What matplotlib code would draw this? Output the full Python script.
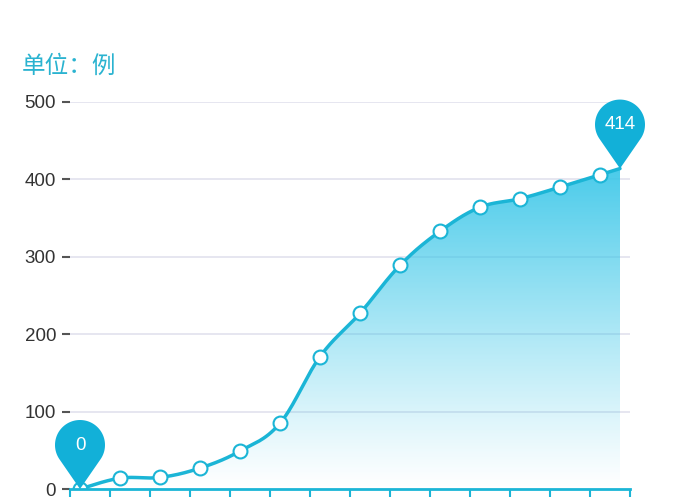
import numpy as np
import matplotlib
matplotlib.use("Agg")
import matplotlib.pyplot as plt
import matplotlib.transforms as mtransforms
from matplotlib.patches import Polygon

plt.rcParams['font.family'] = ['Liberation Sans', 'Noto Sans CJK SC', 'DejaVu Sans']

# Data
days = [0, 1, 2, 3, 4, 5, 6, 7, 8, 9, 10, 11, 12, 13, 13.5]
cases = [0, 14, 15, 27, 49, 85, 171, 227, 289, 333, 364, 375, 390, 406, 414]
y_ticks = [0, 100, 200, 300, 400, 500]
unit_label = "单位：例"

LINE = "#1bb5d6"
FILL = (0.22, 0.78, 0.91)
PIN = "#12b0d8"


def smooth_curve(xs, ys, s=0.18, n=30):
    # bezier smoothing through every point, like a chart library's "smooth" line
    p = np.column_stack([xs, ys]).astype(float)
    out = []
    for i in range(len(p) - 1):
        p0 = p[i - 1] if i > 0 else p[i]
        p1, p2 = p[i], p[i + 1]
        p3 = p[i + 2] if i + 2 < len(p) else p[i + 1]
        c1 = p1 + (p2 - p0) * s
        c2 = p2 - (p3 - p1) * s
        t = np.linspace(0, 1, n)[:, None]
        seg = ((1 - t) ** 3) * p1 + 3 * ((1 - t) ** 2) * t * c1 + 3 * (1 - t) * t ** 2 * c2 + t ** 3 * p2
        out.append(seg if i == 0 else seg[1:])
    seg = np.vstack(out)
    return seg[:, 0], seg[:, 1]


def draw_pin(ax, x, y, text):
    # teardrop pin in pixel units, tip anchored on the data point
    d, r = 44.0, 25.0
    phi = np.arccos(r / d)
    a0 = -np.pi / 2 + phi
    a1 = 3 * np.pi / 2 - phi
    ang = np.linspace(a0, a1, 80)
    verts = np.vstack([[0, 0], np.column_stack([r * np.cos(ang), d + r * np.sin(ang)])])
    trans = mtransforms.Affine2D() + mtransforms.ScaledTranslation(x, y, ax.transData)
    ax.add_patch(Polygon(verts, closed=True, facecolor=PIN, edgecolor='none',
                         transform=trans, clip_on=False, zorder=6))
    ttrans = mtransforms.offset_copy(ax.transData, fig=ax.figure, x=0, y=d * 72 / ax.figure.dpi,
                                     units='points')
    ax.text(x, y, text, transform=ttrans, ha='center', va='center', color='white',
            fontsize=13.5, zorder=7, clip_on=False)


fig = plt.figure(figsize=(7, 5), dpi=100)
ax = fig.add_axes([0.1, 0.022, 0.8, 0.774])

sx, sy = smooth_curve(days, cases)

# gradient fill under the curve
grad = np.zeros((256, 2, 4))
grad[..., 0], grad[..., 1], grad[..., 2] = FILL
alpha = np.linspace(0.0, 0.92, 256) ** 1.1
grad[..., 3] = alpha[:, None]
img = ax.imshow(grad, extent=[days[0], days[-1], 0, max(cases)], origin='lower',
                aspect='auto', zorder=1, interpolation='bilinear')
clip = Polygon(np.vstack([np.column_stack([sx, sy]), [[days[-1], 0], [days[0], 0]]]),
               closed=True, transform=ax.transData, facecolor='none', edgecolor='none')
ax.add_patch(clip)
img.set_clip_path(clip)

ax.plot(sx, sy, color=LINE, lw=2.5, zorder=3, solid_capstyle='round')
ax.plot(days[:-1], cases[:-1], 'o', ms=10, mfc='white', mec=LINE, mew=1.5, zorder=4)

draw_pin(ax, days[0], cases[0], str(cases[0]))
draw_pin(ax, days[-1], cases[-1], str(cases[-1]))

ax.set_xlim(-0.25, 13.75)
ax.set_ylim(0, 500)
ax.set_yticks(y_ticks)
ax.set_xticks(np.arange(15) - 0.25)
ax.set_xticklabels([])
for yv in y_ticks[1:]:
    ax.axhline(yv, color='#e2e2ee', lw=1.2, zorder=0)

for s in ['top', 'right', 'left']:
    ax.spines[s].set_visible(False)
ax.spines['bottom'].set_color(LINE)
ax.spines['bottom'].set_linewidth(2)
ax.spines['bottom'].set_zorder(5)
ax.tick_params(axis='x', direction='out', length=6, width=1.5, color=LINE)
ax.tick_params(axis='y', direction='out', length=6, width=1.5, color='#555555',
               labelsize=13.5, labelcolor='#333333', pad=4)

fig.text(0.031, 0.868, unit_label, color='#2ab3d0', fontsize=17, ha='left', va='center',
         family=['Noto Sans CJK SC', 'DejaVu Sans'])

fig.savefig("out.png", dpi=100, facecolor='white')
